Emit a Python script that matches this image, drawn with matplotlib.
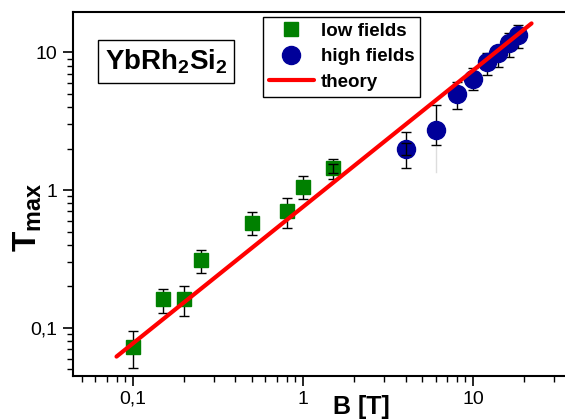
import matplotlib
matplotlib.use('Agg')
from matplotlib import pyplot as plt
from matplotlib.ticker import LogLocator, FixedLocator, NullFormatter

plt.rcParams['font.family'] = ['Liberation Sans', 'DejaVu Sans']
plt.rcParams['mathtext.fontset'] = 'custom'
plt.rcParams['mathtext.rm'] = 'Liberation Sans'
plt.rcParams['mathtext.bf'] = 'Liberation Sans:bold'

# low fields (green squares)
low_B = [0.1, 0.15, 0.2, 0.25, 0.5, 0.8, 1.0, 1.5]
low_T = [0.073, 0.161, 0.162, 0.31, 0.58, 0.70, 1.06, 1.44]
low_err = [0.022, 0.032, 0.04, 0.06, 0.11, 0.17, 0.2, 0.23]

# high fields (blue circles)
high_B = [4, 6, 8, 10, 12, 14, 16.2, 18.2]
high_T = [2.0, 2.75, 5.0, 6.45, 8.5, 9.8, 11.6, 13.3]
high_err_lo = [0.55, 0.63, 1.14, 1.15, 1.7, 2.0, 2.3, 2.5]
high_err_hi = [0.62, 1.38, 1.1, 1.25, 1.4, 1.4, 2.1, 2.4]

# inner (second) error bars on two points
inner_B = [1.5, 4]
inner_T = [1.44, 2.0]
inner_err = [0.1, 0.2]

# theory line endpoints
theory_B = [0.08, 22]
theory_T = [0.062, 16.2]

fig = plt.figure(figsize=(5.65, 4.2), dpi=100)
ax = fig.add_axes([73/565, 44.5/420, 492/565, 363.5/420])

ax.plot(theory_B, theory_T, color='#ff0000', lw=3, solid_capstyle='round', label='theory', zorder=3)
ax.errorbar(low_B, low_T, yerr=low_err, fmt='none', ecolor='black', elinewidth=1,
            capsize=3.5, capthick=1, zorder=2)
ax.plot(low_B, low_T, 's', color='#008000', ms=10, mec='#008000', label='low fields', zorder=2.5)
# faint lower tail on the 6 T point
ax.plot([6, 6], [1.36, 2.1], color='#dddddd', lw=1, zorder=1)
ax.errorbar(high_B, high_T, yerr=[high_err_lo, high_err_hi], fmt='none', ecolor='black',
            elinewidth=1, capsize=3.5, capthick=1, zorder=2)
ax.plot(high_B, high_T, 'o', color='#000099', ms=13, mec='#000099', label='high fields', zorder=2.5)
ax.errorbar(inner_B, inner_T, yerr=inner_err, fmt='none', ecolor='black', elinewidth=1,
            capsize=3.5, capthick=1, zorder=4)

ax.set_xscale('log')
ax.set_yscale('log')
ax.set_xlim(0.0444, 34.6)
ax.set_ylim(0.0452, 19.6)

ax.xaxis.set_major_locator(FixedLocator([0.1, 1, 10]))
ax.yaxis.set_major_locator(FixedLocator([0.1, 1, 10]))
ax.xaxis.set_minor_locator(LogLocator(base=10, subs=range(2, 10), numticks=20))
ax.yaxis.set_minor_locator(LogLocator(base=10, subs=range(2, 10), numticks=20))
ax.xaxis.set_minor_formatter(NullFormatter())
ax.yaxis.set_minor_formatter(NullFormatter())
ax.set_xticklabels(['0,1', '1', '10'])
ax.set_yticklabels(['0,1', '1', '10'])
ax.tick_params(which='major', direction='out', length=7, width=1.2, labelsize=14, pad=4)
ax.tick_params(which='minor', direction='out', length=4, width=1)

for s in ['left', 'bottom', 'top']:
    ax.spines[s].set_linewidth(1.5)
ax.spines['right'].set_visible(False)

ax.set_xlabel('B [T]', fontsize=18, fontweight='bold')
ax.xaxis.set_label_coords((361 - 73) / 492, (375.5 - 395) / 363.5)
ax.set_ylabel(r'$\mathbf{T}_{\mathbf{max}}$', fontsize=24)
ax.yaxis.set_label_coords((44 - 73) / 492, (375.5 - 217) / 363.5)

ax.text((166 - 73) / 492, (375.5 - 61.5) / 363.5, r'YbRh$_\mathbf{2}$Si$_\mathbf{2}$',
        transform=ax.transAxes, fontsize=20, fontweight='bold', ha='center', va='center',
        bbox=dict(boxstyle='square,pad=0.25', fc='white', ec='black', lw=1))

handles, labels = ax.get_legend_handles_labels()
order = [labels.index('low fields'), labels.index('high fields'), labels.index('theory')]
leg = ax.legend([handles[i] for i in order], [labels[i] for i in order],
                loc='upper left', bbox_to_anchor=((263 - 73) / 492, (375.5 - 17) / 363.5),
                fancybox=False, edgecolor='black', framealpha=1, borderaxespad=0,
                prop={'weight': 'bold', 'size': 13.5}, handlelength=2.4, handletextpad=0.4,
                borderpad=0.3, labelspacing=0.45)
leg.get_frame().set_linewidth(1)

fig.savefig('out.png', dpi=100)
